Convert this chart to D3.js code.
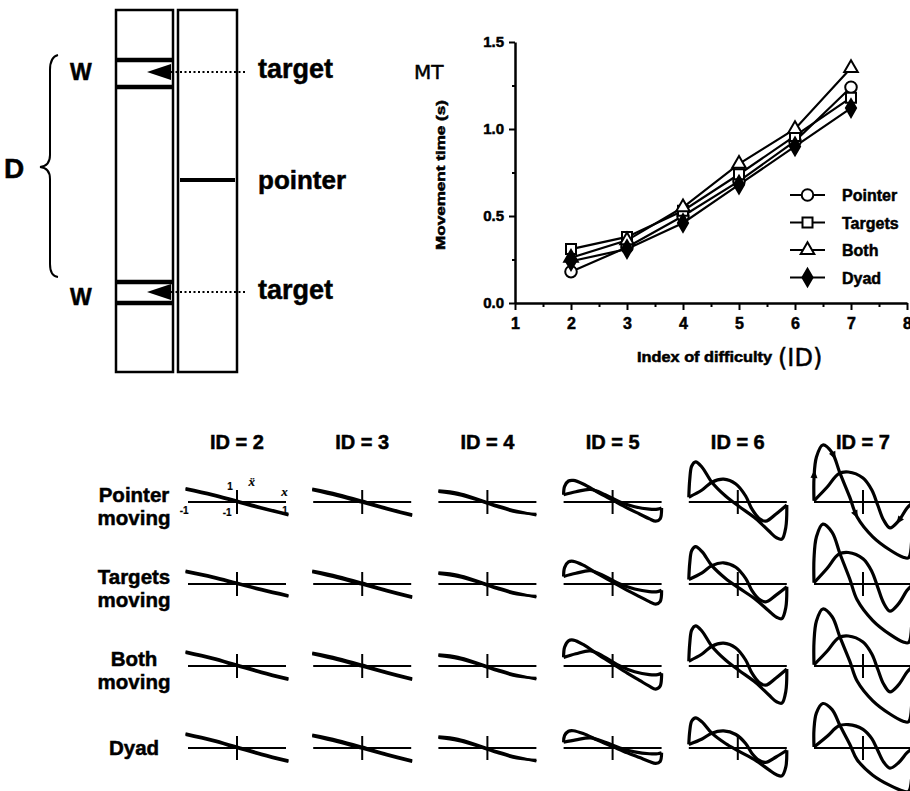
<!DOCTYPE html>
<html>
<head>
<meta charset="utf-8">
<script src="https://cdn.jsdelivr.net/npm/d3@7"></script>
<style>
body { margin: 0; background: #fff; }
svg { display: block; }
text { font-family: "Liberation Sans", Arial, sans-serif; font-weight: bold; fill: #000;
       stroke: #000; stroke-width: 0.5px; paint-order: stroke; }
</style>
</head>
<body>
<svg id="fig" width="910" height="791"></svg>
<script>
// movement time vs index of difficulty
const idValues = [2, 3, 4, 5, 6, 7];
const pointerMT = [0.18, 0.32, 0.50, 0.70, 0.93, 1.24];
const targetsMT = [0.31, 0.38, 0.53, 0.74, 0.96, 1.18];
const bothMT    = [0.26, 0.36, 0.55, 0.80, 1.00, 1.35];
const dyadMT    = [0.24, 0.31, 0.46, 0.68, 0.90, 1.12];
const seriesNames = ['Pointer', 'Targets', 'Both', 'Dyad'];
const xTicks = [1, 2, 3, 4, 5, 6, 7, 8];
const yTicks = [0, 0.5, 1.0, 1.5];

// phase plots (normalised position x, normalised acceleration)
const rowLabels = [['Pointer', 'moving'], ['Targets', 'moving'], ['Both', 'moving'], ['Dyad']];
const colIDs = [2, 3, 4, 5, 6, 7];
const traceA = {
    2: [[-1.05, 0.23], [-0.5, 0.13], [0, 0.02], [0.5, -0.09], [1.05, -0.2]],
    3: [[-1.02, 0.22], [-0.5, 0.13], [0, 0.02], [0.5, -0.1], [1.02, -0.21]],
    4: [[-1.0, 0.19], [-0.6, 0.15], [-0.2, 0.05], [0.2, -0.06], [0.6, -0.15], [1.0, -0.22]],
    5: [[-1, 0.12], [-0.98, 0.26], [-0.9, 0.35], [-0.8, 0.36], [-0.6, 0.3], [-0.3, 0.16], [0, 0.03],
        [0.3, -0.1], [0.55, -0.2], [0.75, -0.28], [0.88, -0.32], [0.97, -0.28], [1, -0.1]],
    6: [[-1, 0.08], [-0.98, 0.38], [-0.94, 0.6], [-0.86, 0.67], [-0.73, 0.58], [-0.53, 0.33], [-0.25, 0.1],
        [0.02, -0.07], [0.37, -0.28], [0.63, -0.48], [0.8, -0.6], [0.9, -0.62], [0.98, -0.42], [1, -0.05]],
    7: [[-1, 0.02], [-1, 0.4], [-0.95, 0.75], [-0.82, 0.95], [-0.63, 0.82], [-0.47, 0.48], [-0.27, 0.08],
        [-0.12, -0.25], [0.2, -0.58], [0.55, -0.8], [0.82, -0.92], [0.93, -0.93], [1.0, -0.55], [1.0, -0.02]]
};
const traceB = {
    2: [[-1.05, 0.21], [-0.5, 0.11], [0, 0.0], [0.5, -0.11], [1.05, -0.22]],
    3: [[-1.02, 0.2], [-0.5, 0.1], [0, -0.01], [0.5, -0.12], [1.02, -0.23]],
    4: [[-1.0, 0.17], [-0.6, 0.12], [-0.2, 0.03], [0.2, -0.08], [0.6, -0.17], [1.0, -0.2]],
    5: [[-1, 0.12], [-0.75, 0.17], [-0.45, 0.21], [-0.15, 0.12], [0.15, 0.0], [0.45, -0.08],
        [0.75, -0.12], [0.92, -0.12], [1, -0.1]],
    6: [[-1, 0.08], [-0.73, 0.2], [-0.53, 0.33], [-0.29, 0.38], [-0.04, 0.3], [0.16, 0.1], [0.29, -0.12],
        [0.43, -0.27], [0.57, -0.32], [0.78, -0.2], [1, -0.05]],
    7: [[-1, 0.02], [-0.73, 0.25], [-0.5, 0.47], [-0.3, 0.5], [0, 0.4], [0.18, 0.2], [0.3, -0.05],
        [0.42, -0.3], [0.55, -0.43], [0.72, -0.32], [0.9, -0.1], [1, -0.02]]
};
// amplitude of each cell relative to the top row
const rowGain = [
    [1, 1, 1, 1, 1, 1],
    [0.95, 1, 1, 1.05, 0.93, 1.05],
    [1.05, 1, 1, 1.2, 1.0, 1.0],
    [1.05, 1, 1, 0.8, 0.75, 0.78]
];

let svg = d3.select('#fig');
svg.append('rect').attr('width', 910).attr('height', 791).attr('fill', '#fff');

// ---------- schematic (top left) ----------
function schematic() {
    let g = svg.append('g');
    g.append('rect').attr('x', 116).attr('y', 10).attr('width', 57).attr('height', 362)
        .attr('fill', 'none').attr('stroke', '#000').attr('stroke-width', 2.5);
    g.append('rect').attr('x', 178).attr('y', 10).attr('width', 59).attr('height', 362)
        .attr('fill', 'none').attr('stroke', '#000').attr('stroke-width', 2.5);

    let targets = [{ top: 60, bottom: 87, mid: 72 }, { top: 282, bottom: 303, mid: 292 }];
    targets.forEach(t => {
        [t.top, t.bottom].forEach(yy => {
            g.append('line').attr('x1', 116).attr('x2', 173).attr('y1', yy).attr('y2', yy)
                .attr('stroke', '#000').attr('stroke-width', 4.5);
        });
        g.append('path').attr('d', `M147,${t.mid} L171,${t.mid - 8} L171,${t.mid + 8} Z`).attr('fill', '#000');
        g.append('line').attr('x1', 171).attr('x2', 247).attr('y1', t.mid).attr('y2', t.mid)
            .attr('stroke', '#000').attr('stroke-width', 2).attr('stroke-dasharray', '2,2.5');
    });
    g.append('line').attr('x1', 180).attr('x2', 235).attr('y1', 180).attr('y2', 180)
        .attr('stroke', '#000').attr('stroke-width', 4);

    g.append('path')
        .attr('d', 'M58,55 Q50,57 50,70 L50,155 Q50,166 40,167 Q50,168 50,179 L50,264 Q50,276 58,277')
        .attr('fill', 'none').attr('stroke', '#000').attr('stroke-width', 2);

    g.append('text').attr('x', 70).attr('y', 80).style('font-size', '23px').text('W');
    g.append('text').attr('x', 70).attr('y', 305).style('font-size', '23px').text('W');
    g.append('text').attr('x', 4).attr('y', 178).style('font-size', '28px').text('D');
    g.append('text').attr('x', 258).attr('y', 78).style('font-size', '27px').text('target');
    g.append('text').attr('x', 258).attr('y', 189).style('font-size', '26px').text('pointer');
    g.append('text').attr('x', 258).attr('y', 299).style('font-size', '27px').text('target');
}
schematic();

// ---------- MT chart ----------
let x = d3.scaleLinear().domain([1, 8]).range([515, 907]);
let y = d3.scaleLinear().domain([0, 1.5]).range([303, 42]);

let gx = svg.append('g').attr('transform', 'translate(0,303)')
    .call(d3.axisBottom(x).tickValues(xTicks).tickFormat(d3.format('d')).tickSize(7).tickSizeOuter(0).tickPadding(8));
svg.append('g').attr('transform', 'translate(0,303)')
    .call(d3.axisBottom(x).tickValues(d3.range(1.5, 8, 1)).tickSize(4).tickFormat(''))
    .select('.domain').remove();
let gy = svg.append('g').attr('transform', 'translate(515,0)')
    .call(d3.axisLeft(y).tickValues(yTicks).tickFormat(d3.format('.1f')).tickSize(6).tickSizeOuter(0).tickPadding(5));
svg.append('g').attr('transform', 'translate(515,0)')
    .call(d3.axisLeft(y).tickValues([0.25, 0.75, 1.25]).tickSize(3).tickFormat(''))
    .select('.domain').remove();
svg.selectAll('.domain').attr('stroke-width', 2.5);
svg.selectAll('.tick line').attr('stroke-width', 2);
gx.selectAll('.tick text').style('font-size', '16px');
gy.selectAll('.tick text').style('font-size', '15px');

svg.append('text').attr('x', 414).attr('y', 79).style('font-family', '"DejaVu Sans", sans-serif')
    .style('font-weight', 'normal').style('font-size', '20px').text('MT');
svg.append('text').attr('transform', 'translate(445,175) rotate(-90)').attr('text-anchor', 'middle')
    .style('font-size', '13px').attr('textLength', 150).attr('lengthAdjust', 'spacingAndGlyphs')
    .text('Movement time (s)');
svg.append('text').attr('x', 637).attr('y', 362).style('font-size', '14px')
    .attr('textLength', 135).attr('lengthAdjust', 'spacingAndGlyphs').text('Index of difficulty');
svg.append('text').attr('x', 778).attr('y', 366).style('font-family', '"DejaVu Sans", sans-serif')
    .style('font-weight', 'normal').style('font-size', '24px').text('(ID)');

let series = [
    { name: 'Pointer', values: pointerMT, shape: 'circle' },
    { name: 'Targets', values: targetsMT, shape: 'square' },
    { name: 'Both', values: bothMT, shape: 'triangle' },
    { name: 'Dyad', values: dyadMT, shape: 'diamond' }
];
let symbolFor = {
    circle: d3.symbol(d3.symbolCircle, 105),
    square: d3.symbol(d3.symbolSquare, 100),
    triangle: d3.symbol(d3.symbolTriangle, 80),
    diamond: d3.symbol(d3.symbolDiamond, 90)
};
let mtLine = d3.line().x((d, i) => x(idValues[i])).y(d => y(d));

series.forEach(s => {
    svg.append('path').datum(s.values).attr('d', mtLine)
        .attr('fill', 'none').attr('stroke', '#000').attr('stroke-width', 2.2);
});
series.forEach(s => {
    svg.append('g').selectAll('path').data(s.values).enter().append('path')
        .attr('d', symbolFor[s.shape])
        .attr('transform', (d, i) => `translate(${x(idValues[i])},${y(d)})`)
        .attr('fill', s.shape === 'diamond' ? '#000' : '#fff')
        .attr('stroke', '#000').attr('stroke-width', 2);
});

let legend = svg.append('g').attr('transform', 'translate(790,195)');
series.forEach((s, i) => {
    let row = legend.append('g').attr('transform', `translate(0,${i * 27.5})`);
    row.append('line').attr('x1', 0).attr('x2', 35).attr('stroke', '#000').attr('stroke-width', 2.2);
    row.append('path').attr('d', symbolFor[s.shape]).attr('transform', 'translate(17.5,0)')
        .attr('fill', s.shape === 'diamond' ? '#000' : '#fff').attr('stroke', '#000').attr('stroke-width', 2);
    row.append('text').attr('x', 52).attr('y', 6).style('font-size', '16px').text(s.name);
});

// ---------- phase plot grid ----------
let colX = d3.scaleLinear().domain([2, 7]).range([237, 863]);
let rowY = d3.scalePoint().domain(d3.range(4)).range([502, 748]);
let cx = d3.scaleLinear().domain([-1, 1]).range([-49, 49]);
let cy = d3.scaleLinear().domain([-1, 1]).range([60, -60]);
let phaseLine = d3.line().x(d => cx(d[0])).y(d => cy(d[1])).curve(d3.curveCatmullRom.alpha(0.5));

colIDs.forEach(id => {
    svg.append('text').attr('x', colX(id)).attr('y', 449).attr('text-anchor', 'middle')
        .style('font-size', '20px').text(`ID = ${id}`);
});

rowLabels.forEach((lines, r) => {
    let base = lines.length === 2 ? rowY(r) : rowY(r) + 7;
    lines.forEach((ln, k) => {
        svg.append('text').attr('text-anchor', 'middle').style('font-size', '20.5px')
            .attr('x', 134).attr('y', base + k * 23).text(ln);
    });
});

function addArrows(g, node, fracs, reverse) {
    let L = node.getTotalLength();
    fracs.forEach(f => {
        let p = node.getPointAtLength(f * L);
        let q = node.getPointAtLength(Math.min(L, f * L + 1.5));
        let ang = Math.atan2(q.y - p.y, q.x - p.x) * 180 / Math.PI + (reverse ? 180 : 0);
        g.append('path').attr('d', 'M4.5,0 L-3.5,-3.5 L-3.5,3.5 Z')
            .attr('transform', `translate(${p.x},${p.y}) rotate(${ang})`).attr('fill', '#000');
    });
}

rowLabels.forEach((lines, r) => {
    colIDs.forEach((id, c) => {
        let g = svg.append('g').attr('transform', `translate(${colX(id)},${rowY(r)})`);
        let k = rowGain[r][c];
        g.append('line').attr('x1', cx(-1)).attr('x2', cx(1)).attr('y1', 0).attr('y2', 0)
            .attr('stroke', '#000').attr('stroke-width', 1.8);
        g.append('line').attr('x1', cx(0)).attr('x2', cx(0)).attr('y1', cy(0.2)).attr('y2', cy(-0.2))
            .attr('stroke', '#000').attr('stroke-width', 2);
        let sw = id <= 4 ? 2.6 : 3.2;
        let pa = g.append('path').datum(traceA[id].map(d => [d[0], d[1] * k])).attr('d', phaseLine)
            .attr('fill', 'none').attr('stroke', '#000').attr('stroke-width', sw).attr('stroke-linejoin', 'round');
        let pb = g.append('path').datum(traceB[id].map(d => [d[0], d[1] * k])).attr('d', phaseLine)
            .attr('fill', 'none').attr('stroke', '#000').attr('stroke-width', sw).attr('stroke-linejoin', 'round');
        if (r === 0 && id === 7) {
            addArrows(g, pa.node(), [0.1, 0.28, 0.52], false);
            addArrows(g, pb.node(), [0.86], true);
        }
        if (r === 0 && id === 2) {
            let lab = (tx, xx, yy, italic) => {
                let t = g.append('text').attr('x', cx(xx)).attr('y', cy(yy)).attr('text-anchor', 'middle')
                    .style('font-size', italic ? '13px' : '10px').style('stroke-width', '0.2px').text(tx);
                if (italic) t.style('font-family', '"Liberation Serif", serif').style('font-style', 'italic');
            };
            lab('1', -0.14, 0.2);
            lab('\u1E8D', 0.3, 0.27, true);
            lab('x', 0.97, 0.1, true);
            lab('-1', -1.08, -0.2);
            lab('-1', -0.2, -0.23);
            lab('1', 0.98, -0.2);
        }
    });
});
</script>
</body>
</html>
